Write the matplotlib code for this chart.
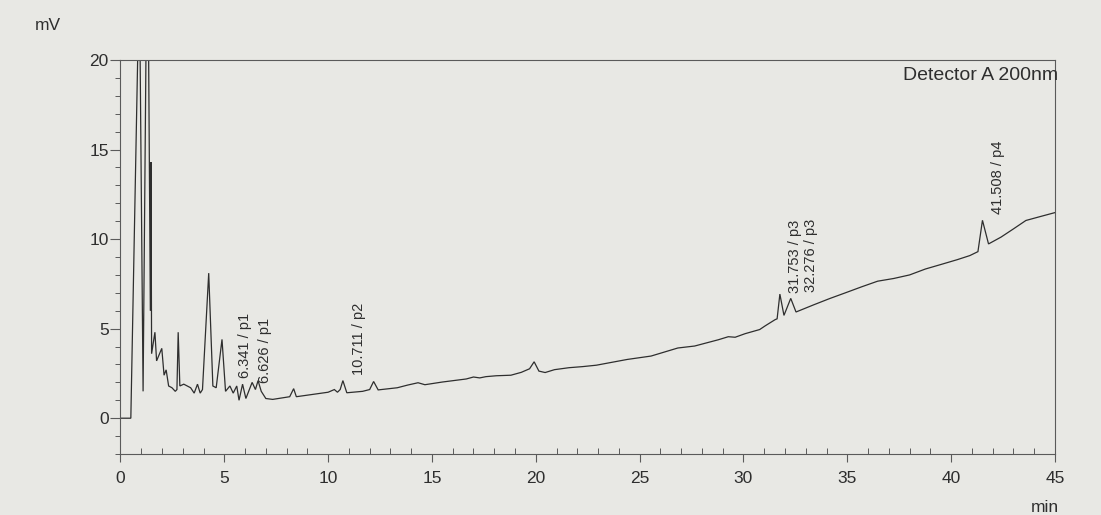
import matplotlib
matplotlib.use('Agg')
import matplotlib.pyplot as plt
import numpy as np
from matplotlib.ticker import MultipleLocator

plt.rcParams['font.family'] = ['Liberation Sans', 'DejaVu Sans']

# ---- data (time in min, signal in mV) ----
time_min = [
    0.00, 0.50, 0.91, 1.09, 1.30, 1.44, 1.47, 1.50, 1.66, 1.74, 1.99, 2.10,
    2.20, 2.32, 2.48, 2.64, 2.72, 2.78, 2.86, 3.05, 3.38, 3.55, 3.71, 3.84,
    3.95, 4.25, 4.45, 4.61, 4.89, 5.06, 5.27, 5.43, 5.60, 5.71, 5.88, 6.04,
    6.341, 6.50, 6.626, 6.78, 7.00, 7.33, 8.15, 8.34, 8.47, 10.00, 10.30,
    10.45, 10.58, 10.711, 10.90, 11.66, 12.00, 12.19, 12.41, 13.33, 13.83,
    14.33, 14.66, 15.50, 16.65, 17.00, 17.30, 17.60, 18.10, 18.80, 19.30,
    19.70, 19.92, 20.15, 20.45, 20.90, 21.60, 22.25, 22.92, 24.40, 25.55,
    26.84, 27.65, 28.79, 29.27, 29.60, 30.08, 30.78, 31.05, 31.52, 31.62,
    31.753, 31.95, 32.276, 32.53, 33.38, 34.15, 34.93, 35.70, 36.46, 37.23,
    38.00, 38.76, 39.53, 40.29, 40.90, 41.29, 41.508, 41.80, 42.40, 43.00,
    43.60, 44.20, 45.00,
]
signal_mv = [
    0.00, 0.00, 25.0, 1.50, 30.0, 6.00, 14.3, 3.60, 4.80, 3.20, 3.90, 2.40,
    2.70, 1.80, 1.70, 1.50, 1.60, 4.80, 1.80, 1.90, 1.70, 1.40, 1.90, 1.40,
    1.60, 8.10, 1.80, 1.70, 4.40, 1.50, 1.80, 1.40, 1.80, 1.00, 1.90, 1.10,
    2.00, 1.60, 2.10, 1.50, 1.10, 1.05, 1.20, 1.65, 1.20, 1.45, 1.60,
    1.45, 1.60, 2.10, 1.42, 1.50, 1.60, 2.05, 1.58, 1.70, 1.85,
    1.98, 1.87, 2.02, 2.19, 2.30, 2.25, 2.32, 2.37, 2.40, 2.56,
    2.76, 3.15, 2.63, 2.55, 2.71, 2.82, 2.88, 2.96, 3.28, 3.47,
    3.92, 4.03, 4.38, 4.55, 4.52, 4.72, 4.95, 5.16, 5.50, 5.55,
    6.93, 5.74, 6.69, 5.93, 6.33, 6.68, 7.01, 7.34, 7.65, 7.80,
    8.00, 8.33, 8.59, 8.85, 9.08, 9.30, 11.05, 9.73, 10.11, 10.57,
    11.04, 11.23, 11.48,
]

peak_times = [6.341, 6.626, 10.711, 31.753, 32.276, 41.508]
peak_names = ['p1', 'p1', 'p2', 'p3', 'p3', 'p4']

x_ticks = [0, 5, 10, 15, 20, 25, 30, 35, 40, 45]
y_ticks = [0, 5, 10, 15, 20]

# ---- label placement (styling, pixels) ----
label_dx_px = [-7, 7, 16, 15, 20, 16]
label_dy_px = [4, -2, 6, 1, 6, 6]

bg = '#e8e8e4'
ink = '#2e2e2e'
axc = '#5a5a5a'

fig = plt.figure(figsize=(11.01, 5.15), dpi=100, facecolor=bg)
ax = fig.add_axes([0.1094, 0.1184, 0.9582 - 0.1094, 0.8835 - 0.1184])
ax.set_facecolor(bg)

ax.plot(time_min, signal_mv, color=ink, lw=0.9, solid_joinstyle='miter')

ax.set_xlim(0, 45)
ax.set_ylim(-2, 20)
ax.set_xticks(x_ticks)
ax.set_yticks(y_ticks)
ax.xaxis.set_minor_locator(MultipleLocator(1))
ax.yaxis.set_minor_locator(MultipleLocator(1))

for s in ax.spines.values():
    s.set_color(axc)
    s.set_linewidth(0.8)

ax.tick_params(axis='x', which='major', direction='out', length=6, width=0.8,
               pad=6, labelsize=12.5, color=axc, labelcolor=ink)
ax.tick_params(axis='x', which='minor', direction='in', length=4, width=0.7,
               color=axc)
ax.tick_params(axis='y', which='major', direction='out', length=7, width=0.8,
               pad=1.5, labelsize=12.5, color=axc, labelcolor=ink)
ax.tick_params(axis='y', which='minor', direction='out', length=3.5, width=0.7,
               color=axc)

px2pt = 72.0 / fig.dpi
for t, name, dx, dy in zip(peak_times, peak_names, label_dx_px, label_dy_px):
    v = np.interp(t, time_min, signal_mv)
    ax.annotate(f'{t:.3f} / {name}', xy=(t, v),
                xytext=(dx * px2pt, dy * px2pt), textcoords='offset points',
                rotation=90, ha='center', va='bottom', fontsize=10.5, color=ink)

ax.text(1.003, 0.982, 'Detector A 200nm', transform=ax.transAxes,
        ha='right', va='top', fontsize=14, color=ink)

fig.text(48 / 1101, 1 - 25 / 515, 'mV', ha='center', va='center',
         fontsize=12.5, color=ink)
fig.text(1045 / 1101, 1 - 507 / 515, 'min', ha='center', va='center',
         fontsize=12.5, color=ink)

fig.savefig('out.png', dpi=100, facecolor=bg)
